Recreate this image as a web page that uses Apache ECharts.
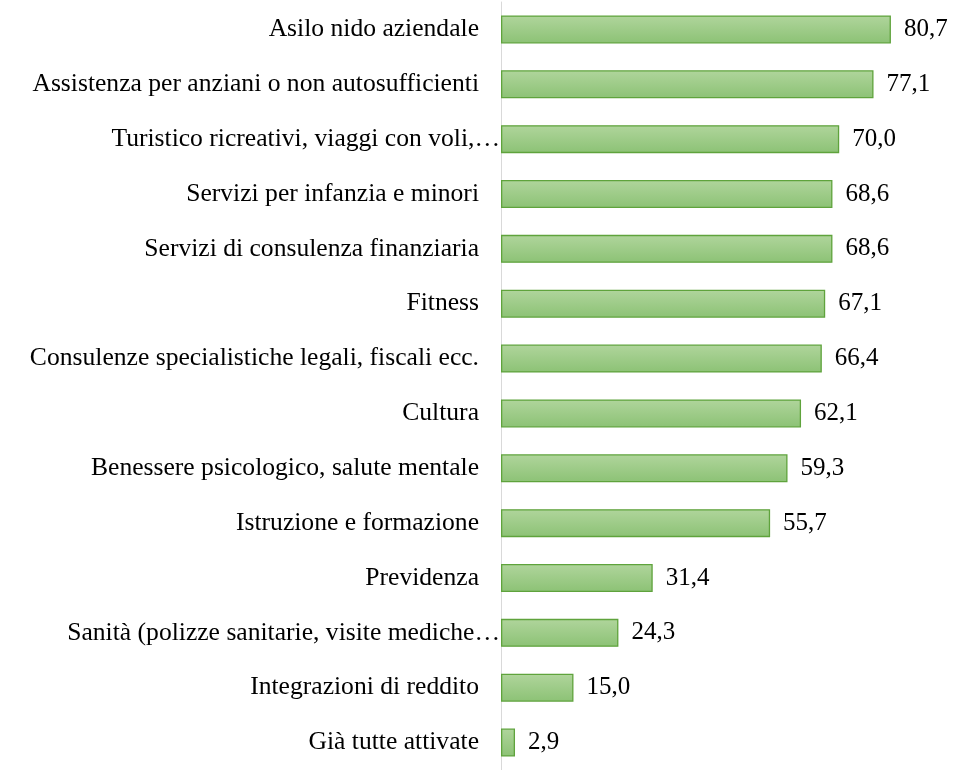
<!DOCTYPE html>
<html><head><meta charset="utf-8">
<script src="https://cdn.jsdelivr.net/npm/echarts@6/dist/echarts.min.js"></script>
<style>html,body{margin:0;padding:0;background:#fff}#c{width:960px;height:770px}</style>
</head><body><div id="c"></div>
<script>
const categories = [
  "Asilo nido aziendale",
  "Assistenza per anziani o non autosufficienti",
  "Turistico ricreativi, viaggi con voli,…",
  "Servizi per infanzia e minori",
  "Servizi di consulenza finanziaria",
  "Fitness",
  "Consulenze specialistiche legali, fiscali ecc.",
  "Cultura",
  "Benessere psicologico, salute mentale",
  "Istruzione e formazione",
  "Previdenza",
  "Sanità (polizze sanitarie, visite mediche…",
  "Integrazioni di reddito",
  "Già tutte attivate"
];
const values = [80.7, 77.1, 70.0, 68.6, 68.6, 67.1, 66.4, 62.1, 59.3, 55.7, 31.4, 24.3, 15.0, 2.9];

const catData = categories.map(c => c.endsWith('…')
  ? { value: c, textStyle: { padding: [0, -21, 0, 0] } }
  : c);

const chart = echarts.init(document.getElementById('c'));
chart.setOption({
  animation: false,
  grid: { left: 501, top: 2, width: 459, height: 770 },
  xAxis: { type: 'value', min: 0, max: 95, show: false },
  yAxis: {
    type: 'category', data: catData, inverse: true,
    axisLine: { show: true, lineStyle: { color: '#d9d9d9', width: 1 } },
    axisTick: { show: false },
    axisLabel: { color: '#000', fontFamily: 'Liberation Serif', fontSize: 25.6, margin: 22 }
  },
  series: [{
    type: 'bar', data: values, barWidth: 28,
    itemStyle: {
      color: new echarts.graphic.LinearGradient(0, 0, 0, 1, [
        { offset: 0, color: '#b0d59c' },
        { offset: 1, color: '#8cc275' }
      ]),
      borderColor: '#5fa33c', borderWidth: 1.3
    },
    label: {
      show: true, position: 'right', distance: 13, color: '#000',
      fontFamily: 'Liberation Serif', fontSize: 25,
      formatter: p => p.value.toFixed(1).replace('.', ',')
    }
  }]
});
</script></body></html>
